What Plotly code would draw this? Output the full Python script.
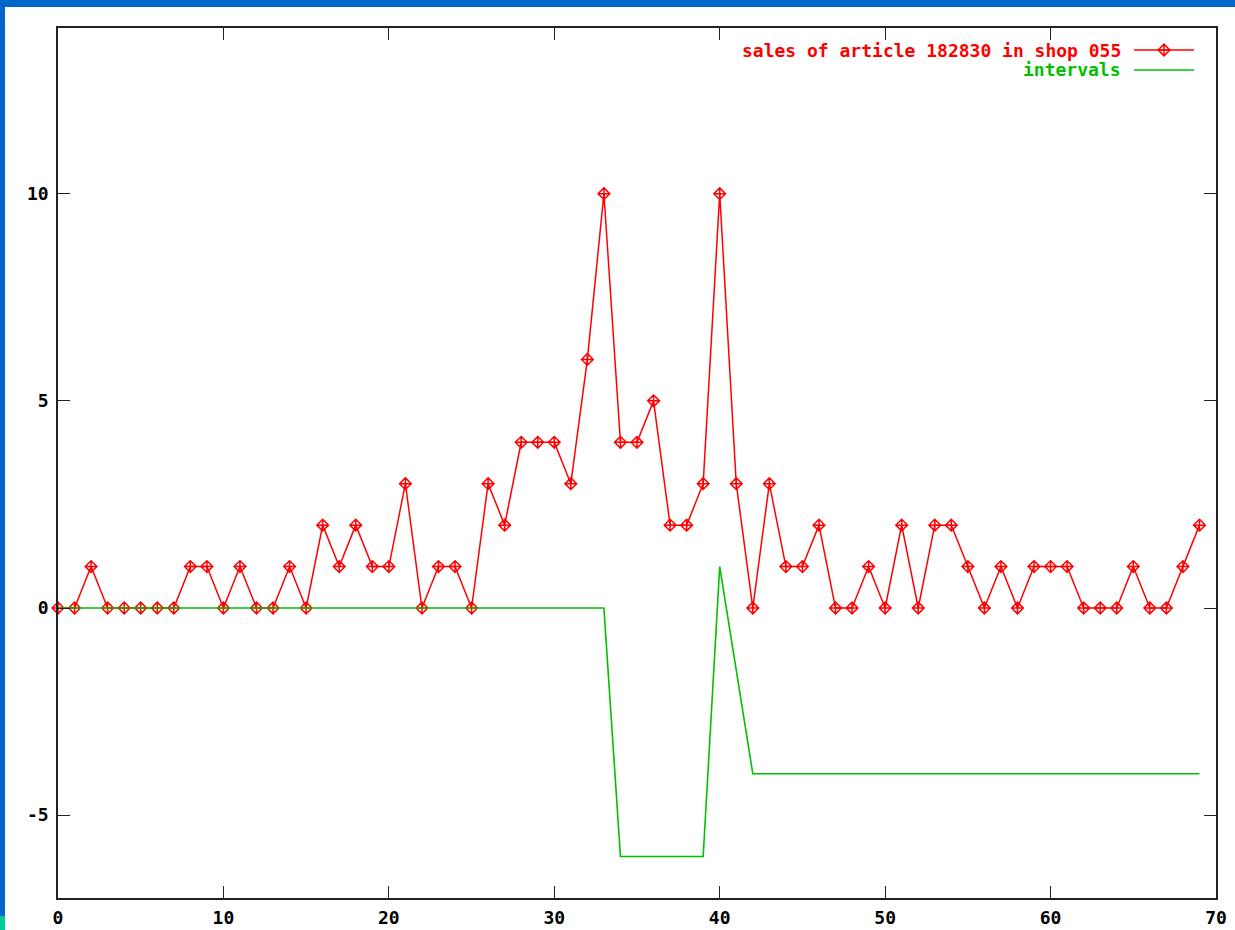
import plotly.graph_objects as go

# ---- data ----
weeks = list(range(70))
sales = [0, 0, 1, 0, 0, 0, 0, 0, 1, 1,
         0, 1, 0, 0, 1, 0, 2, 1, 2, 1,
         1, 3, 0, 1, 1, 0, 3, 2, 4, 4,
         4, 3, 6, 10, 4, 4, 5, 2, 2, 3,
         10, 3, 0, 3, 1, 1, 2, 0, 0, 1,
         0, 2, 0, 2, 2, 1, 0, 1, 0, 1,
         1, 1, 0, 0, 0, 1, 0, 0, 1, 2]
interval_x = [0, 33, 34, 39, 40, 42, 69]
interval_y = [0, 0, -6, -6, 1, -4, -4]
x_ticks = [0, 10, 20, 30, 40, 50, 60, 70]
y_ticks = [-5, 0, 5, 10]
y_tick_text = ["-5", "0", "5", "10"]
sales_label = "sales of article 182830 in shop 055"
interval_label = "intervals"

RED = "#ff0000"
GREEN = "#00c000"
FONT = "DejaVu Sans Mono"
FS = 18

fig = go.Figure()
fig.add_trace(go.Scatter(
    x=weeks, y=sales, mode="lines+markers",
    line=dict(color=RED, width=1.5),
    marker=dict(symbol="diamond-cross-open", size=9, color=RED, line=dict(width=1.5, color=RED)),
    showlegend=False, cliponaxis=False))
fig.add_trace(go.Scatter(
    x=interval_x, y=interval_y, mode="lines",
    line=dict(color=GREEN, width=1.6), showlegend=False))

# legend key marker on an overlay axis in paper-like coordinates
fig.add_trace(go.Scatter(
    x=[0.9551], y=[0.9747], mode="markers", xaxis="x2", yaxis="y2",
    marker=dict(symbol="diamond-cross-open", size=9, color=RED, line=dict(width=1.5, color=RED)),
    showlegend=False, hoverinfo="skip", cliponaxis=False))

W, H = 1158, 870
def px(xp):
    return (xp - 58) / W
def py(yp):
    return (898 - yp) / H

shapes = [
    dict(type="line", xref="paper", yref="paper", x0=px(1134), x1=px(1194), y0=py(50), y1=py(50),
         line=dict(color=RED, width=1.5)),
    dict(type="line", xref="paper", yref="paper", x0=px(1134), x1=px(1194), y0=py(70), y1=py(70),
         line=dict(color=GREEN, width=1.6)),
    dict(type="rect", xref="paper", yref="paper", x0=px(0), x1=px(1235), y0=py(7), y1=py(0),
         fillcolor="#0066cc", line=dict(width=0), layer="above"),
    dict(type="rect", xref="paper", yref="paper", x0=px(0), x1=px(5), y0=py(916), y1=py(0),
         fillcolor="#0066cc", line=dict(width=0), layer="above"),
    dict(type="rect", xref="paper", yref="paper", x0=px(0), x1=px(5), y0=py(930), y1=py(916),
         fillcolor="#00cc99", line=dict(width=0), layer="above"),
]

annotations = [
    dict(xref="paper", yref="paper", x=px(1123), y=py(50), xanchor="right", yanchor="middle",
         text=sales_label, showarrow=False, font=dict(family=FONT, size=FS, color=RED, weight="bold")),
    dict(xref="paper", yref="paper", x=px(1123), y=py(70), xanchor="right", yanchor="middle",
         text=interval_label, showarrow=False, font=dict(family=FONT, size=FS, color=GREEN, weight="bold")),
]

axis_common = dict(
    showgrid=False, zeroline=False, showline=True, linecolor="#222222", linewidth=1.5,
    mirror="ticks", ticks="inside", ticklen=12, tickwidth=1.2, tickcolor="#222222",
    automargin=False,
    tickfont=dict(family=FONT, size=FS, color="black", weight="bold"),
)

fig.update_layout(
    width=1235, height=930,
    margin=dict(l=58, r=19, t=28, b=32, autoexpand=False),
    paper_bgcolor="white", plot_bgcolor="white",
    xaxis=dict(range=[0, 70], tickvals=x_ticks, ticklabelstandoff=3, **axis_common),
    yaxis=dict(range=[-7, 14], tickvals=y_ticks, ticktext=y_tick_text, ticklabelstandoff=4, **axis_common),
    xaxis2=dict(range=[0, 1], overlaying="x", visible=False, fixedrange=True),
    yaxis2=dict(range=[0, 1], overlaying="y", visible=False, fixedrange=True),
    shapes=shapes, annotations=annotations,
    showlegend=False,
)

fig.write_html("out.html", config={"displayModeBar": False},
               post_script="document.body.style.margin='0';document.body.style.padding='0';")
